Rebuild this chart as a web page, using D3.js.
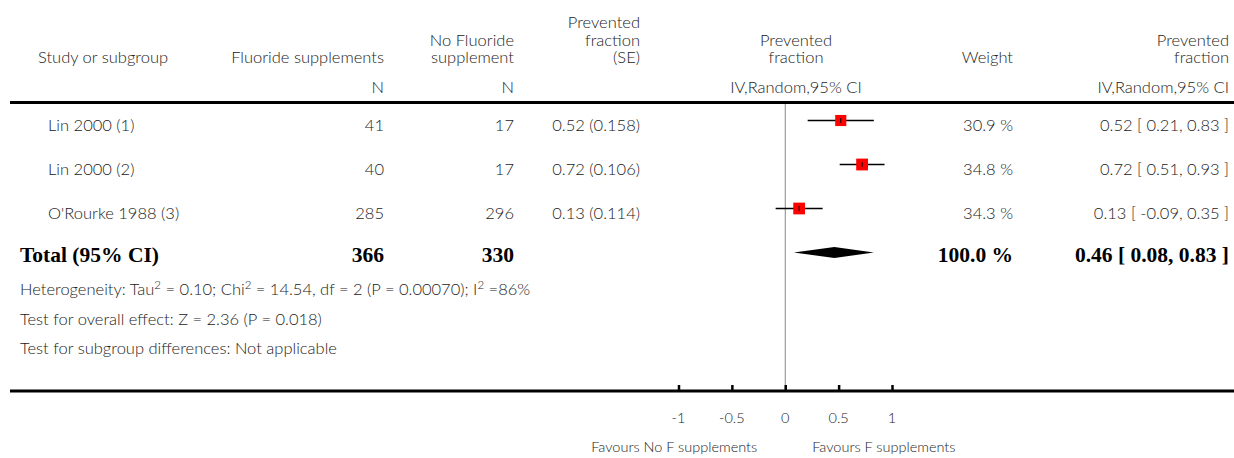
<!DOCTYPE html>
<html>
<head>
<meta charset="utf-8">
<script src="https://cdn.jsdelivr.net/npm/d3@7"></script>
<style>
  body { margin: 0; background: #fff; }
  svg { display: block; }
  .t { font-family: Lato, "Open Sans", sans-serif; font-size: 16.5px; font-weight: 300; fill: #222; }
  .s { font-size: 14.5px; }
  .b { font-family: "Liberation Serif", "Times New Roman", serif; font-weight: bold; font-size: 21.5px; fill: #000; }
</style>
</head>
<body>
<div id="chart"></div>
<script>
// study rows
const studies = ["Lin 2000 (1)", "Lin 2000 (2)", "O'Rourke 1988 (3)"];
const nFluoride = [41, 40, 285];
const nNoFluoride = [17, 17, 296];
const estimate = [0.52, 0.72, 0.13];
const stdErr = [0.158, 0.106, 0.114];
const lower = [0.21, 0.51, -0.09];
const upper = [0.83, 0.93, 0.35];
const weight = [30.9, 34.8, 34.3];

// pooled result
const totalN = [366, 330];
const totalEstimate = 0.46;
const totalCI = [0.08, 0.83];
const totalWeight = 100.0;

const axisTicks = [-1, -0.5, 0, 0.5, 1];
const tickLabels = ["-1", "-0.5", "0", "0.5", "1"];
const footLines = [
  "Heterogeneity: Tau² = 0.10; Chi² = 14.54, df = 2 (P = 0.00070); I² =86%",
  "Test for overall effect: Z = 2.36 (P = 0.018)",
  "Test for subgroup differences: Not applicable"
];

const width = 1234, height = 458;
const svg = d3.select("#chart").append("svg")
    .attr("width", width)
    .attr("height", height);

const x = d3.scaleLinear().domain([-1, 1]).range([678.5, 892]);
const y = d3.scalePoint().domain(studies).range([120.5, 208.5]);
const boxSize = d3.scaleSqrt().domain([0, 100]).range([0, 20]);

// column anchors
const colN1 = 384, colN2 = 514, colSE = 640, colW = 1013, colCI = 1229;
const f2 = v => v.toFixed(2);

function txt(cls, xx, yy, s, anchor) {
  return svg.append("text").attr("class", cls)
    .attr("x", xx).attr("y", yy)
    .attr("text-anchor", anchor || "start")
    .text(s);
}

// header
txt("t", 38, 63, "Study or subgroup");
txt("t", colN1, 63, "Fluoride supplements", "end");
txt("t", colN1, 93, "N", "end");
txt("t", colN2, 45.5, "No Fluoride", "end");
txt("t", colN2, 63, "supplement", "end");
txt("t", colN2, 93, "N", "end");
txt("t", colSE, 28, "Prevented", "end");
txt("t", colSE, 45.5, "fraction", "end");
txt("t", colSE, 63, "(SE)", "end");
txt("t", 796, 45.5, "Prevented", "middle");
txt("t", 796, 63, "fraction", "middle");
txt("t", 796, 93, "IV,Random,95% CI", "middle");
txt("t", colW, 63, "Weight", "end");
txt("t", colCI, 45.5, "Prevented", "end");
txt("t", colCI, 63, "fraction", "end");
txt("t", colCI, 93, "IV,Random,95% CI", "end");

// header rule
svg.append("line").attr("x1", 10).attr("x2", width).attr("y1", 102.5).attr("y2", 102.5)
  .attr("stroke", "#000").attr("stroke-width", 3);

// zero line
svg.append("line").attr("x1", x(0)).attr("x2", x(0)).attr("y1", 104).attr("y2", 391)
  .attr("stroke", "#888").attr("stroke-width", 1);

// study rows
studies.forEach((s, i) => {
  const yy = y(s);
  txt("t", 48, yy + 10.5, s);
  txt("t", colN1, yy + 10.5, nFluoride[i], "end");
  txt("t", colN2, yy + 10.5, nNoFluoride[i], "end");
  txt("t", colSE, yy + 10.5, `${f2(estimate[i])} (${stdErr[i].toFixed(3)})`, "end");
  txt("t", colW, yy + 10.5, `${weight[i].toFixed(1)} %`, "end");
  txt("t", colCI, yy + 10.5, `${f2(estimate[i])} [ ${f2(lower[i])}, ${f2(upper[i])} ]`, "end");

  svg.append("line").attr("x1", x(lower[i])).attr("x2", x(upper[i]))
    .attr("y1", yy).attr("y2", yy).attr("stroke", "#000").attr("stroke-width", 1.5);
  const b = boxSize(weight[i]);
  svg.append("rect").attr("x", x(estimate[i]) - b / 2).attr("y", yy - b / 2)
    .attr("width", b).attr("height", b).attr("fill", "#f00");
  svg.append("line").attr("x1", x(estimate[i])).attr("x2", x(estimate[i]))
    .attr("y1", yy - 2.5).attr("y2", yy + 2.5).attr("stroke", "#000").attr("stroke-width", 1);
});

// total row
const yTot = 252.5;
txt("b", 20, 262, "Total (95% CI)");
txt("b", colN1, 262, totalN[0], "end");
txt("b", colN2, 262, totalN[1], "end");
txt("b", colW, 262, `${totalWeight.toFixed(1)} %`, "end");
txt("b", colCI, 262, `${f2(totalEstimate)} [ ${f2(totalCI[0])}, ${f2(totalCI[1])} ]`, "end");
svg.append("path")
  .attr("d", `M${x(totalCI[0])},${yTot} L${x(totalEstimate)},${yTot - 5.5} L${x(totalCI[1])},${yTot} L${x(totalEstimate)},${yTot + 5.5} Z`)
  .attr("fill", "#000");

// footnotes (superscript 2 drawn as a raised small digit)
footLines.forEach((s, i) => {
  const t = txt("t", 20, [295, 325, 354][i], null);
  s.split("²").forEach((part, j) => {
    if (j > 0) {
      t.append("tspan").attr("dy", -6).style("font-size", "11.5px").text("2");
      t.append("tspan").attr("dy", 6).text(part);
    } else {
      t.append("tspan").text(part);
    }
  });
});

// axis
const axisY = 391;
svg.append("line").attr("x1", 10).attr("x2", width).attr("y1", axisY).attr("y2", axisY)
  .attr("stroke", "#000").attr("stroke-width", 3);
const axis = d3.axisTop(x).tickValues(axisTicks).tickSize(6).tickFormat("");
const gAxis = svg.append("g").attr("transform", `translate(0,${axisY})`).call(axis);
gAxis.select(".domain").remove();
gAxis.selectAll(".tick line").attr("stroke", "#000").attr("stroke-width", 2.5);
axisTicks.forEach((v, i) => {
  txt("t s", x(v), 423, tickLabels[i], "middle");
});
txt("t s", x(0) - 28, 452, "Favours No F supplements", "end");
txt("t s", x(0) + 27, 452, "Favours F supplements", "start");
</script>
</body>
</html>
